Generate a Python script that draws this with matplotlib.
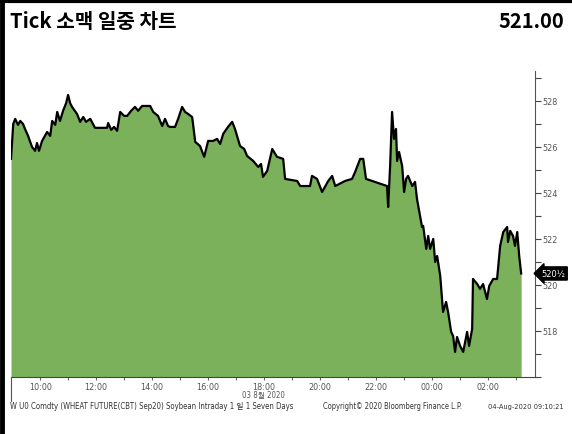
import matplotlib
matplotlib.use("Agg")
import matplotlib.pyplot as plt
from matplotlib.lines import Line2D
from matplotlib.ticker import FixedLocator
import matplotlib.transforms as mtransforms

# ---- data (hours since midnight 03-Aug; >24 = next day) ----
times = [8.96, 9.04, 9.11, 9.21, 9.29, 9.39, 9.46, 9.57, 9.71, 9.82, 9.89, 9.96,
         10.07, 10.25, 10.36, 10.43, 10.54, 10.61, 10.71, 10.82, 10.93, 11.0, 11.07,
         11.14, 11.32, 11.43, 11.54, 11.64, 11.79, 11.96, 12.39, 12.43, 12.54, 12.64,
         12.75, 12.86, 13.0, 13.11, 13.25, 13.39, 13.5, 13.64, 13.93, 14.04, 14.21,
         14.36, 14.46, 14.57, 14.64, 14.82, 14.93, 15.07, 15.18, 15.29, 15.43, 15.54,
         15.71, 15.86, 16.0, 16.18, 16.32, 16.43, 16.54, 16.71, 16.86, 16.96, 17.14,
         17.29, 17.39, 17.61, 17.79, 17.89, 17.96, 18.11, 18.29, 18.46, 18.68, 18.75,
         19.18, 19.29, 19.64, 19.71, 19.89, 20.07, 20.29, 20.43, 20.54, 20.89, 21.14,
         21.25, 21.43, 21.54, 21.64, 22.39, 22.43, 22.5, 22.57, 22.64, 22.71, 22.75,
         22.82, 22.93, 23.0, 23.07, 23.14, 23.29, 23.39, 23.46, 23.64, 23.68, 23.79,
         23.86, 23.93, 24.04, 24.11, 24.18, 24.29, 24.39, 24.5, 24.57, 24.68, 24.75,
         24.82, 24.89, 25.0, 25.11, 25.25, 25.32, 25.43, 25.46, 25.61, 25.71, 25.82,
         25.96, 26.04, 26.18, 26.32, 26.43, 26.54, 26.68, 26.71, 26.79, 26.89, 26.96,
         27.04, 27.11, 27.18]
prices = [525.48, 527.0, 527.22, 526.96, 527.13, 527.0, 526.78, 526.48, 526.0, 525.83,
          526.17, 525.83, 526.26, 526.65, 526.48, 527.13, 526.96, 527.52, 527.13, 527.57,
          527.91, 528.26, 527.91, 527.74, 527.43, 527.09, 527.3, 527.09, 527.22, 526.83,
          526.83, 527.04, 526.74, 526.87, 526.7, 527.52, 527.35, 527.35, 527.57, 527.74,
          527.57, 527.78, 527.78, 527.52, 527.35, 526.91, 527.22, 526.91, 526.87, 526.87,
          527.22, 527.74, 527.52, 527.43, 527.3, 526.22, 526.04, 525.57, 526.26, 526.26,
          526.35, 526.13, 526.57, 526.87, 527.09, 526.78, 526.04, 525.91, 525.61, 525.39,
          525.13, 525.26, 524.7, 524.96, 525.91, 525.57, 525.48, 524.61, 524.52, 524.3,
          524.3, 524.74, 524.61, 524.04, 524.52, 524.74, 524.3, 524.52, 524.61, 524.91,
          525.48, 525.48, 524.61, 524.3, 523.39, 525.17, 527.52, 526.35, 526.78, 525.39,
          525.78, 525.17, 524.04, 524.61, 524.74, 524.3, 524.48, 523.74, 522.52, 522.57,
          521.57, 522.13, 521.57, 522.0, 521.0, 521.26, 520.39, 518.83, 519.26, 518.83,
          517.96, 517.78, 517.09, 517.74, 517.35, 517.09, 517.96, 517.35, 518.09, 520.26,
          520.04, 519.83, 520.04, 519.39, 519.96, 520.26, 520.26, 521.7, 522.3, 522.52,
          521.87, 522.35, 522.13, 521.7, 522.3, 521.26, 520.5]

xtick_pos = [10, 12, 14, 16, 18, 20, 22, 24, 26]
xtick_labels = ["10:00", "12:00", "14:00", "16:00", "18:00", "20:00", "22:00", "00:00", "02:00"]
ytick_pos = [518, 520, 522, 524, 526, 528]
ytick_labels = ["518", "520", "522", "524", "526", "528"]

title_text = "Tick 소맥 일중 차트"
last_price_text = "521.00"
last_tag = "520½"
date_label = "03 8월 2020"
footer_left = "W U0 Comdty (WHEAT FUTURE(CBT) Sep20) Soybean Intraday 1 일 1 Seven Days"
footer_mid = "Copyright© 2020 Bloomberg Finance L.P."
footer_right = "04-Aug-2020 09:10:21"

W, H = 572, 435
fig = plt.figure(figsize=(W / 100, H / 100), dpi=100)
fig.patch.set_facecolor("white")

small_font = ["DejaVu Sans", "Noto Sans CJK KR"]
title_font = ["Noto Sans CJK KR", "DejaVu Sans"]


def fx(px):
    return px / W


def fy(py):
    return 1 - py / H


ax = fig.add_axes([fx(11), fy(378), fx(535) - fx(11), fy(72) - fy(378)])
ax.fill_between(times, prices, 516, color="#7bb15a", linewidth=0)
ax.plot(times, prices, color="black", linewidth=1.6)

x0 = times[0]
ax.set_xlim(x0, x0 + 524 / 28)
ax.set_ylim(516, 529.3)

ax.yaxis.tick_right()
ax.yaxis.set_major_locator(FixedLocator(ytick_pos))
ax.set_yticklabels(ytick_labels)
ax.yaxis.set_minor_locator(FixedLocator([516, 517, 519, 521, 523, 525, 527, 529]))
ax.xaxis.set_major_locator(FixedLocator(xtick_pos))
ax.set_xticklabels(xtick_labels)
ax.xaxis.set_minor_locator(FixedLocator([11, 13, 15, 17, 19, 21, 23, 25, 27]))

ax.tick_params(axis="y", which="both", direction="out", length=4, width=0.8,
               color="#444444", labelsize=6.5, labelcolor="#555555", pad=1)
ax.tick_params(axis="x", which="both", direction="out", length=2.5, width=0.8,
               color="#666666", labelsize=6.5, labelcolor="#555555", pad=1)
for lab in ax.get_xticklabels() + ax.get_yticklabels():
    lab.set_family(small_font)
    lab.set_stretch("condensed")

for s in ["left", "top"]:
    ax.spines[s].set_visible(False)
ax.spines["right"].set_color("#555555")
ax.spines["right"].set_linewidth(0.8)
ax.spines["bottom"].set_color("#444444")
ax.spines["bottom"].set_linewidth(0.8)

# last price tag
trans = mtransforms.blended_transform_factory(ax.transAxes, ax.transData)
ax.text(1.012, 520.5, last_tag, transform=trans, ha="left", va="center",
        fontsize=6, color="white", family=small_font, clip_on=False,
        bbox=dict(boxstyle="larrow,pad=0.25", fc="black", ec="black"))

# titles
fig.text(fx(10), fy(22), title_text, ha="left", va="center", fontsize=14.5,
         fontweight="bold", family=title_font)
fig.text(fx(564), fy(22), last_price_text, ha="right", va="center", fontsize=14.5,
         fontweight="bold", family=title_font)

# footer
t_date = fig.text(fx(263), fy(396), date_label, ha="center", va="center", fontsize=6.5,
                  color="#555555", family=small_font, stretch="condensed")
t_left = fig.text(fx(10), fy(407), footer_left, ha="left", va="center", fontsize=6.5,
                  color="#333333", family=small_font, stretch="condensed")
t_mid = fig.text(fx(323), fy(407), footer_mid, ha="left", va="center", fontsize=6.5,
                 color="#333333", family=small_font, stretch="condensed")
t_right = fig.text(fx(563), fy(407), footer_right, ha="right", va="center", fontsize=6.5,
                   color="#333333", family=small_font, stretch="condensed")

# fit footer texts to the widths they take in the reference
fig.canvas.draw()
renderer = fig.canvas.get_renderer()
for t, target in [(t_left, 285), (t_mid, 140), (t_right, 74), (t_date, 42)]:
    w = t.get_window_extent(renderer).width
    if w > target:
        t.set_fontsize(t.get_fontsize() * target / w)

# frame lines
fig.add_artist(Line2D([fx(2), fx(2)], [0, 1], color="black", linewidth=3.5))
fig.add_artist(Line2D([0, 1], [fy(1.5), fy(1.5)], color="black", linewidth=3))
fig.add_artist(Line2D([fx(11), fx(11)], [fy(378), fy(402)], color="#555555", linewidth=0.8))

fig.savefig("out.png", dpi=100)
